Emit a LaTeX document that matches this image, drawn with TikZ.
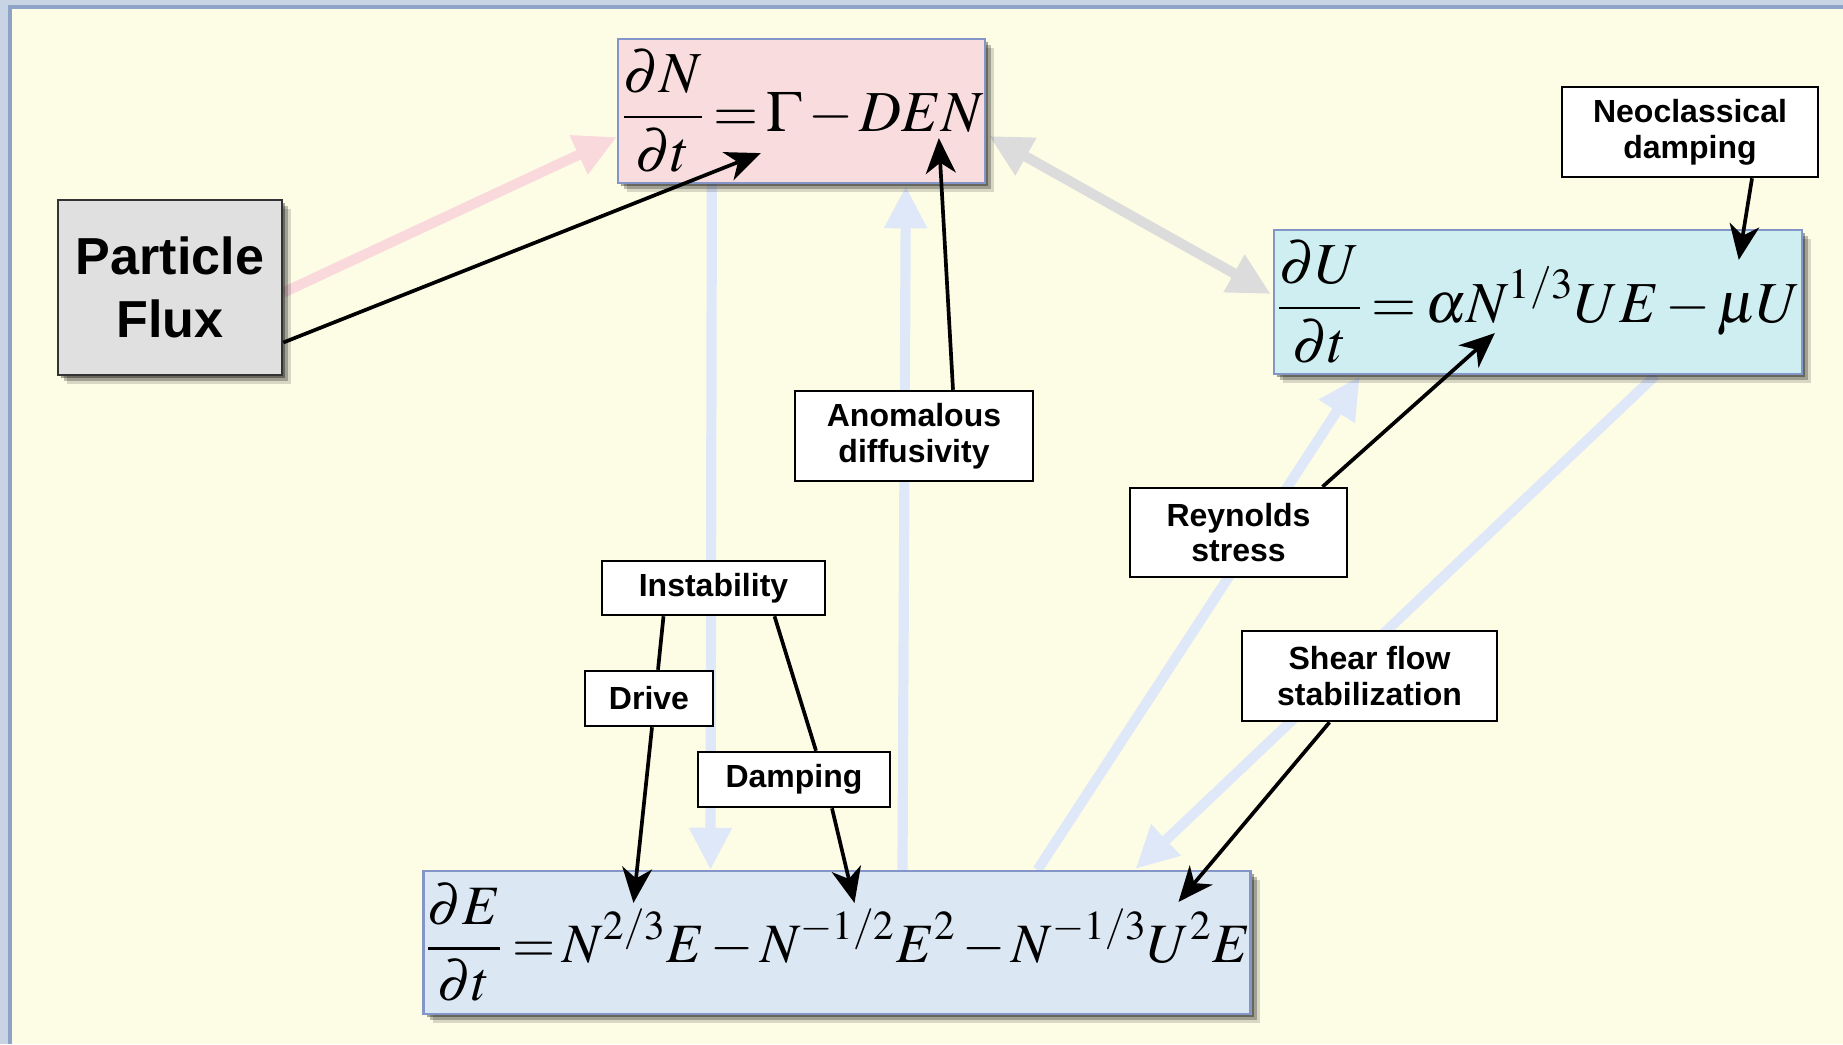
\documentclass[tikz,border=0pt]{standalone}
\usepackage{mathptmx}
\usepackage[no-math]{fontspec}
\newfontfamily\lab{Liberation Sans}
\usetikzlibrary{shadows,arrows.meta,calc}
\definecolor{outerbg}{HTML}{C8D3E3}
\definecolor{panel}{HTML}{FDFDE6}
\definecolor{panelborder}{HTML}{8EA3C8}
\definecolor{eqborder}{HTML}{8496C8}
\definecolor{pinkfill}{HTML}{F9DCDE}
\definecolor{ufill}{HTML}{CFEEF1}
\definecolor{efill}{HTML}{DCE7F4}
\definecolor{pffill}{HTML}{E0E0E0}
\definecolor{pinkarrow}{HTML}{F9D9DC}
\definecolor{palearrow}{HTML}{DFE8F8}
\definecolor{grayarrow}{HTML}{DCDCDC}
\pgfdeclarelayer{base}
\pgfdeclarelayer{bg}
\pgfsetlayers{base,bg,main}
\newcommand{\tightmath}{\thickmuskip=2.5mu plus 1mu\medmuskip=2mu plus 1mu}
\begin{document}
\begin{tikzpicture}[x=0.01cm,y=-0.01cm,
  softshadow/.style={drop shadow={shadow xshift=0.03cm,shadow yshift=-0.03cm,opacity=0.35,fill=black},
                     drop shadow={shadow xshift=0.06cm,shadow yshift=-0.06cm,opacity=0.25,fill=black},
                     drop shadow={shadow xshift=0.09cm,shadow yshift=-0.09cm,opacity=0.15,fill=black}},
  eqbox/.style={draw=eqborder,line width=0.6pt,inner sep=0pt,softshadow},
  lbl/.style={draw=black,line width=0.7pt,fill=white,inner sep=0pt,align=center,font=\lab\bfseries\fontsize{9.1}{10.2}\selectfont},
  blk/.style={line width=1.05pt,-{Stealth[length=10pt,width=8.5pt,inset=3pt]}},
  plainline/.style={line width=1.05pt},
  pale/.style={line width=2.9pt,draw=#1,-{Triangle[length=12pt,width=11.5pt]}},
]
\useasboundingbox (0,0) rectangle (1843,1044);
\begin{pgfonlayer}{base}
\fill[outerbg] (0,0) rectangle (1843,1044);
\fill[panel] (10,7) rectangle (1843,1044);
\draw[panelborder,line width=1pt] (10,1044) -- (10,7) -- (1843,7);
\end{pgfonlayer}

% equation boxes
\node[eqbox,fill=pinkfill,minimum width=3.67cm,minimum height=1.44cm,font=\fontsize{16.5}{21}\selectfont] (eqN) at (801.5,111)
  {$\tightmath\displaystyle\frac{\partial N}{\partial t}=\Gamma-DEN$};
\node[eqbox,fill=ufill,minimum width=5.28cm,minimum height=1.44cm,font=\fontsize{16.5}{21}\selectfont] (eqU) at (1538,302)
  {$\tightmath\displaystyle\frac{\partial U}{\partial t}=\alpha N^{1/3}UE-\mu U$};
\node[eqbox,fill=efill,minimum width=8.24cm,minimum height=1.43cm,font=\fontsize{15.8}{20}\selectfont] (eqE) at (837,942.5)
  {$\tightmath\displaystyle\frac{\partial E}{\partial t}=N^{2/3}E-N^{-1/2}E^{2}-N^{-1/3}U^{2}E$};
\node[draw=black!80,line width=0.7pt,fill=pffill,inner sep=0pt,softshadow,minimum width=2.24cm,minimum height=1.75cm,
  align=center,font=\lab\bfseries\fontsize{14.8}{18}\selectfont] (pf) at (170,287.5) {Particle\\Flux};

% labels
\node[lbl,minimum width=2.56cm,minimum height=0.90cm] (neo) at (1690,132) {Neoclassical\\damping};
\node[lbl,minimum width=2.38cm,minimum height=0.90cm] (anom) at (914,436) {Anomalous\\diffusivity};
\node[lbl,minimum width=2.17cm,minimum height=0.89cm] (reyn) at (1238.5,532.5) {Reynolds\\stress};
\node[lbl,minimum width=2.23cm,minimum height=0.54cm] (inst) at (713.5,588) {Instability};
\node[lbl,minimum width=1.28cm,minimum height=0.55cm] (drive) at (649,698.5) {Drive};
\node[lbl,minimum width=1.92cm,minimum height=0.55cm] (damp) at (794,779.5) {Damping};
\node[lbl,minimum width=2.55cm,minimum height=0.90cm] (shear) at (1369.5,676) {Shear flow\\stabilization};

% pale arrows
\begin{pgfonlayer}{bg}
\draw[pale=pinkarrow] ($(pf.east)+(0,5)$) -- ($(eqN.west)+(0,26)$);
\draw[pale=grayarrow,{Triangle[length=12pt,width=11.5pt]}-{Triangle[length=12pt,width=11.5pt]}]
  ($(eqN.east)+(3,25)$) -- ($(eqU.west)+(-2,-8)$);
\draw[pale=palearrow] ($(eqN.south west)+(95,0)$) -- ($(eqE.north west)+(288,0)$);
\draw[pale=palearrow] ($(eqE.north west)+(480,0)$) -- ($(eqN.south west)+(289,2)$);
\draw[pale=palearrow] ($(eqE.north west)+(615,0)$) -- ($(eqU.south west)+(87,1)$);
\draw[pale=palearrow] ($(eqU.south west)+(383,0)$) -- ($(eqE.north west)+(713,-1)$);
\end{pgfonlayer}

% black connectors
\draw[blk] ($(pf.east)+(0,55)$) -- ($(eqN.south west)+(144,-31)$);
\draw[blk] ($(anom.north)+(39,0)$) -- ($(eqN.south west)+(322,-46)$);
\draw[blk] ($(neo.south)+(62,0)$) -- ($(eqU.north west)+(466,31)$);
\draw[blk] ($(reyn.north)+(84,0)$) -- ($(eqU.south west)+(222,-42)$);
\draw[blk] ($(shear.south)+(-40,0)$) -- ($(eqE.north west)+(756,32)$);
\draw[plainline] ($(inst.south)+(-50,0)$) -- ($(drive.north)+(9,0)$);
\draw[blk] ($(drive.south)+(3,0)$) -- ($(eqE.north west)+(211,33)$);
\draw[plainline] ($(inst.south)+(61,0)$) -- ($(damp.north)+(22,0)$);
\draw[blk] ($(damp.south)+(38,0)$) -- ($(eqE.north west)+(432,33)$);
\end{tikzpicture}
\end{document}
